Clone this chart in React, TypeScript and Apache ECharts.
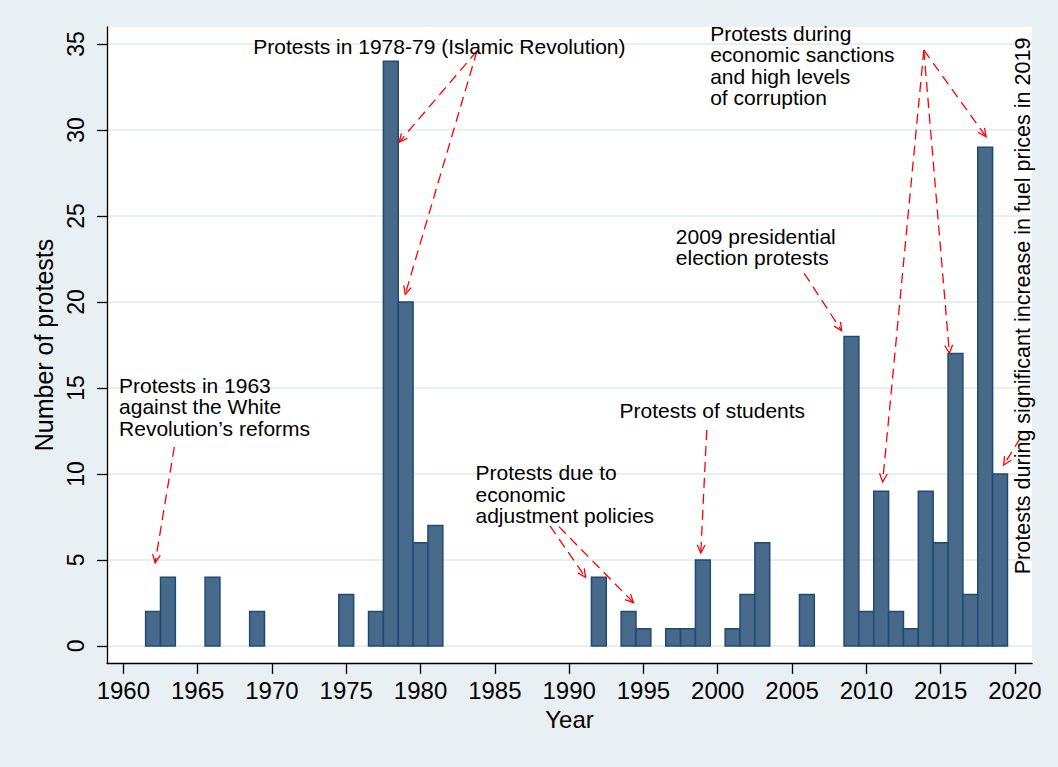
import React, { useEffect, useRef } from "react";
import * as echarts from "echarts";

// ---- data ----
const years = [1962, 1963, 1966, 1969, 1975, 1977, 1978, 1979, 1980, 1981, 1992, 1994, 1995, 1997, 1998, 1999, 2001, 2002, 2003, 2006, 2009, 2010, 2011, 2012, 2013, 2014, 2015, 2016, 2017, 2018, 2019];
const counts = [2, 4, 4, 2, 3, 2, 34, 20, 6, 7, 4, 2, 1, 1, 1, 5, 1, 3, 6, 3, 18, 2, 9, 2, 1, 9, 6, 17, 3, 29, 10];
const xTicks = [1960, 1965, 1970, 1975, 1980, 1985, 1990, 1995, 2000, 2005, 2010, 2015, 2020];
const yTicks = [0, 5, 10, 15, 20, 25, 30, 35];

// annotations (data coordinates: left edge / vertical middle of text block)
const noteTexts = [
  "Protests in 1978-79 (Islamic Revolution)",
  "Protests in 1963\nagainst the White\nRevolution\u2019s reforms",
  "Protests due to\neconomic\nadjustment policies",
  "Protests of students",
  "2009 presidential\nelection protests",
  "Protests during\neconomic sanctions\nand high levels\nof corruption",
];
const noteX = [1968.74, 1959.71, 1983.7, 1993.39, 1997.18, 1999.49];
const noteY = [34.88, 13.9, 8.83, 13.69, 23.19, 33.76];

const sideNote = "Protests during significant increase in fuel prices in 2019";
const sideNoteX = 2020.56;
const sideNoteY = 19.77;

// arrows (from -> to), data coordinates
const arrowFromX = [1983.8, 1983.8, 1963.43, 1988.71, 1989.31, 1999.26, 2005.82, 2013.87, 2013.87, 2013.87, 2020.36];
const arrowFromY = [34.6, 34.6, 11.57, 6.98, 6.94, 12.56, 21.67, 34.65, 34.65, 34.65, 12.08];
const arrowToX = [1978.56, 1978.97, 1962.14, 1991.11, 1994.33, 1998.86, 2008.34, 2018.06, 2011.1, 2015.59, 2019.24];
const arrowToY = [29.3, 20.45, 4.84, 3.99, 2.52, 5.41, 18.33, 29.61, 9.55, 17.02, 10.52];

const FONT = "'Liberation Sans', Arial, Helvetica, sans-serif";

export default function App() {
  const ref = useRef<HTMLDivElement>(null);
  useEffect(() => {
    if (!ref.current) return;
    const chart = echarts.init(ref.current, null, { renderer: "svg" });
    const option: any = {
      animation: false,
      backgroundColor: "#e9f0f3",
      textStyle: { fontFamily: FONT },
      grid: {
        left: 107,
        top: 27,
        width: 925,
        height: 636,
        show: true,
        backgroundColor: "#ffffff",
        borderWidth: 0,
      },
      xAxis: {
        type: "value",
        min: 1958.9,
        max: 2021.15,
        name: "Year",
        nameLocation: "middle",
        nameGap: 44,
        nameTextStyle: { fontSize: 24, color: "#000", fontFamily: FONT },
        axisLine: { show: true, onZero: false, lineStyle: { color: "#000", width: 1.3 } },
        axisTick: { show: true, length: 11, customValues: xTicks, lineStyle: { color: "#000", width: 1.3 } },
        axisLabel: {
          customValues: xTicks,
          fontSize: 24,
          color: "#000",
          margin: 15,
          fontFamily: FONT,
          formatter: (v: number) => String(v),
        },
        splitLine: { show: false },
      },
      yAxis: {
        type: "value",
        min: -0.99,
        max: 35.99,
        name: "Number of protests",
        nameLocation: "middle",
        nameGap: 49,
        nameTextStyle: { fontSize: 25, color: "#000", fontFamily: FONT },
        axisLine: { show: true, lineStyle: { color: "#000", width: 1.3 } },
        axisTick: { show: true, length: 10, customValues: yTicks, lineStyle: { color: "#000", width: 1.3 } },
        axisLabel: {
          customValues: yTicks,
          fontSize: 23,
          color: "#000",
          margin: 20,
          rotate: 90,
          fontFamily: FONT,
          formatter: (v: number) => String(v),
        },
        splitLine: { show: true, lineStyle: { color: "#e6eff2", width: 2 } },
      },
      series: [
        {
          type: "custom",
          name: "bars",
          z: 2,
          data: years.map((y, i) => [y, counts[i]]),
          encode: { x: 0, y: 1 },
          renderItem: (params: any, api: any) => {
            const x = api.value(0);
            const v = api.value(1);
            const p1 = api.coord([x - 0.5, v]);
            const p2 = api.coord([x + 0.5, 0]);
            return {
              type: "rect",
              shape: { x: p1[0], y: p1[1], width: p2[0] - p1[0], height: p2[1] - p1[1] },
              style: { fill: "#476a8b", stroke: "#1f4b73", lineWidth: 1.5 },
            };
          },
        },
        {
          type: "custom",
          name: "arrows",
          z: 3,
          clip: false,
          data: arrowFromX.map((x, i) => [x, arrowFromY[i], arrowToX[i], arrowToY[i]]),
          encode: { x: [0, 2], y: [1, 3] },
          renderItem: (params: any, api: any) => {
            const a = api.coord([api.value(0), api.value(1)]);
            const b = api.coord([api.value(2), api.value(3)]);
            const ang = Math.atan2(b[1] - a[1], b[0] - a[0]);
            const L = 9;
            const s = 0.45;
            const h1 = [b[0] - L * Math.cos(ang - s), b[1] - L * Math.sin(ang - s)];
            const h2 = [b[0] - L * Math.cos(ang + s), b[1] - L * Math.sin(ang + s)];
            return {
              type: "group",
              children: [
                {
                  type: "line",
                  shape: { x1: a[0], y1: a[1], x2: b[0], y2: b[1] },
                  style: { stroke: "#ff0000", lineWidth: 1.3, lineDash: [10, 6] },
                },
                {
                  type: "polyline",
                  shape: { points: [h1, b, h2] },
                  style: { stroke: "#ff0000", lineWidth: 1.3, fill: null },
                },
              ],
            };
          },
        },
        {
          type: "custom",
          name: "notes",
          z: 4,
          clip: false,
          data: noteX.map((x, i) => [x, noteY[i]]),
          encode: { x: 0, y: 1 },
          renderItem: (params: any, api: any) => {
            const p = api.coord([api.value(0), api.value(1)]);
            return {
              type: "text",
              x: p[0],
              y: p[1],
              style: {
                text: noteTexts[params.dataIndex],
                fontSize: 21,
                lineHeight: 21.3,
                fontFamily: FONT,
                fill: "#000",
                align: "left",
                verticalAlign: "middle",
              },
            };
          },
        },
        {
          type: "custom",
          name: "sideNote",
          z: 4,
          clip: false,
          data: [[sideNoteX, sideNoteY]],
          encode: { x: 0, y: 1 },
          renderItem: (params: any, api: any) => {
            const p = api.coord([api.value(0), api.value(1)]);
            return {
              type: "text",
              x: p[0],
              y: p[1],
              rotation: Math.PI / 2,
              style: {
                text: sideNote,
                fontSize: 21.5,
                fontFamily: FONT,
                fill: "#000",
                align: "center",
                verticalAlign: "middle",
              },
            };
          },
        },
      ],
    };
    chart.setOption(option);
    return () => chart.dispose();
  }, []);
  return (
    <div
      ref={ref}
      style={{ position: "fixed", left: 0, top: 0, width: 1058, height: 767 }}
    />
  );
}
